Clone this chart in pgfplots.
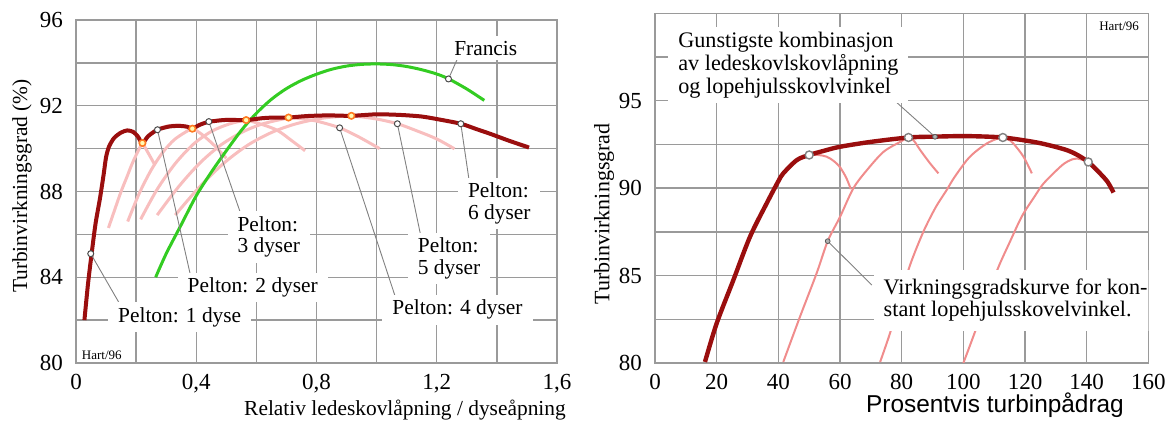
\documentclass[border=0pt]{standalone}
\usepackage{fontspec}
\setmainfont{Liberation Serif}
\newfontfamily\arialfont{Liberation Sans}
\usepackage{pgfplots}
\pgfplotsset{compat=1.18}
\definecolor{envRed}{HTML}{9A0E0E}
\definecolor{nozPink}{HTML}{F8BEBE}
\definecolor{runPink}{HTML}{F08C8C}
\definecolor{franGreen}{HTML}{33CC22}
\definecolor{gridGray}{HTML}{9A9A9A}
\definecolor{dotOrange}{HTML}{FF7A20}

\pgfplotsset{
  chart/.style={
    scale only axis,
    axis line style={gridGray, line width=0.8pt},
    grid=both,
    grid style={gridGray, line width=0.7pt},
    minor grid style={gridGray, line width=0.7pt},
    major tick length=0pt, minor tick length=0pt,
    tick label style={font=\fontsize{11.5}{12}\selectfont},
    xticklabel style={yshift=-2pt},
    yticklabel style={xshift=-3pt},
    /pgf/number format/assume math mode=true,
  },
  leader/.style={gray, line width=0.45pt, no markers, forget plot},
  wmark/.style={only marks, mark=*, mark size=1.5pt,
    mark options={fill=white, draw=black!70, line width=0.5pt}},
}
\tikzset{
  lbl/.style={fill=white, inner xsep=5pt, inner ysep=2.5pt,
    font=\fontsize{10.7}{10.9}\selectfont, align=left},
}

\begin{document}
\begin{tikzpicture}
\useasboundingbox (0,0) rectangle (585.5pt,211pt);

% ---- left: Pelton / Francis
\begin{axis}[chart, at={(38pt,29.5pt)}, anchor=south west,
  width=240.5pt, height=171.5pt,
  xmin=0, xmax=1.6, ymin=80, ymax=96,
  xtick={0,0.4,0.8,1.2,1.6}, xticklabels={0,{0,4},{0,8},{1,2},{1,6}},
  minor xtick={0.2,0.6,1.0,1.4},
  ytick={80,84,88,92,96}, minor ytick={82,86,90,94}]

% single nozzle-count curves
\addplot[nozPink, line width=1.5pt, smooth] coordinates {(0.205,90.58)(0.221,90.26)(0.24,89.8)(0.26,89.3)};
\addplot[nozPink, line width=1.5pt, smooth] coordinates {(0.108,86.3)(0.13,87.2)(0.15,88.0)(0.17,88.7)(0.19,89.4)(0.221,90.26)(0.25,90.7)(0.28,90.95)(0.31,91.07)(0.34,91.1)(0.365,91.05)(0.387,90.95)(0.42,90.65)(0.46,90.15)(0.5,89.55)};
\addplot[nozPink, line width=1.5pt, smooth] coordinates {(0.172,86.6)(0.21,87.9)(0.25,89.0)(0.29,89.85)(0.33,90.45)(0.387,90.95)(0.44,91.24)(0.5,91.36)(0.566,91.32)(0.62,91.12)(0.67,90.85)(0.715,90.4)(0.762,89.9)};
\addplot[nozPink, line width=1.5pt, smooth] coordinates {(0.215,86.7)(0.27,88.1)(0.33,89.3)(0.39,90.2)(0.45,90.8)(0.51,91.15)(0.566,91.33)(0.62,91.43)(0.66,91.45)(0.707,91.44)(0.76,91.38)(0.81,91.25)(0.877,90.97)(0.94,90.55)(1.01,90.0)};
\addplot[nozPink, line width=1.5pt, smooth] coordinates {(0.27,86.9)(0.34,88.2)(0.41,89.3)(0.48,90.15)(0.55,90.75)(0.62,91.15)(0.707,91.43)(0.77,91.52)(0.84,91.55)(0.916,91.53)(1.0,91.38)(1.069,91.16)(1.13,90.85)(1.2,90.45)(1.259,89.99)};
\addplot[nozPink, line width=1.5pt, smooth] coordinates {(0.33,86.9)(0.41,88.2)(0.49,89.3)(0.57,90.15)(0.65,90.75)(0.73,91.15)(0.82,91.42)(0.916,91.54)(1.0,91.6)(1.08,91.57)(1.148,91.5)};

% Francis
\addplot[franGreen, line width=1.5pt, smooth] coordinates {(0.265,84.0)(0.30,85.1)(0.35,86.45)(0.40,87.8)(0.45,88.9)(0.50,89.9)(0.55,90.85)(0.60,91.65)(0.65,92.3)(0.70,92.8)(0.75,93.18)(0.80,93.47)(0.85,93.7)(0.9,93.85)(0.95,93.93)(1.0,93.95)(1.05,93.92)(1.1,93.83)(1.15,93.68)(1.2,93.48)(1.24,93.25)(1.3,92.78)(1.358,92.25)};

% Pelton envelope
\addplot[envRed, line width=2pt, smooth, tension=0.45] coordinates {(0.028,82.0)(0.04,83.7)(0.052,85.1)(0.065,86.5)(0.08,87.7)(0.092,88.8)(0.1,89.6)(0.11,90.1)(0.127,90.5)(0.15,90.75)(0.171,90.85)(0.19,90.78)(0.205,90.58)(0.221,90.26)(0.24,90.58)(0.271,90.88)(0.31,91.03)(0.345,91.06)(0.37,91.02)(0.387,90.93)(0.41,91.1)(0.442,91.25)(0.5,91.34)(0.566,91.33)(0.62,91.42)(0.66,91.45)(0.707,91.45)(0.77,91.52)(0.84,91.55)(0.916,91.53)(1.0,91.6)(1.08,91.57)(1.148,91.5)(1.2,91.38)(1.28,91.16)(1.33,90.92)(1.38,90.68)(1.44,90.37)(1.507,90.05)};

% leaders
\addplot[leader] coordinates {(0.049,85.1)(0.149,82.67)};
\addplot[leader] coordinates {(0.271,90.88)(0.38,84.14)};
\addplot[leader] coordinates {(0.442,91.26)(0.547,87.0)};
\addplot[leader] coordinates {(0.877,90.97)(1.063,83.05)};
\addplot[leader] coordinates {(1.069,91.16)(1.147,85.92)};
\addplot[leader] coordinates {(1.28,91.16)(1.313,88.0)};
\addplot[leader] coordinates {(1.239,93.25)(1.269,94.2)};

\node[lbl] at (axis cs:0.345,82.14) {Pelton: 1 dyse};
\node[lbl] at (axis cs:0.588,83.52) {Pelton: 2 dyser};
\node[lbl] at (axis cs:0.641,85.88) {Pelton:\\3 dyser};
\node[lbl] at (axis cs:1.269,82.48) {Pelton: 4 dyser};
\node[lbl] at (axis cs:1.241,84.87) {Pelton:\\5 dyser};
\node[lbl] at (axis cs:1.408,87.44) {Pelton:\\6 dyser};
\node[lbl] at (axis cs:1.363,94.68) {Francis};
\node[font=\fontsize{6.5}{7}\selectfont] at (axis cs:0.086,80.37) {Hart/96};

\addplot[only marks, mark=*, mark size=1.6pt, mark options={draw=dotOrange, fill=yellow!30!white, line width=0.8pt}] coordinates {(0.221,90.26)(0.387,90.93)(0.566,91.33)(0.707,91.45)(0.916,91.53)};
\addplot[wmark] coordinates {(0.049,85.1)(0.271,90.88)(0.442,91.26)(0.877,90.97)(1.069,91.16)(1.28,91.16)(1.239,93.25)};
\end{axis}

% ---- right: combination curve
\begin{axis}[chart, at={(327.5pt,29.5pt)}, anchor=south west,
  width=246.7pt, height=174.8pt,
  xmin=0, xmax=160, ymin=80, ymax=100,
  xtick={0,20,...,160},
  ytick={80,85,90,95}, minor ytick={82.5,87.5,92.5,97.5}]

\addplot[runPink, line width=1pt, smooth] coordinates {(50,91.9)(53,91.9)(55.7,91.8)(58,91.55)(60,91.2)(62,90.6)(63.5,89.95)};
\addplot[runPink, line width=1pt, smooth] coordinates {(41.6,80.06)(47,82.64)(52.4,85.13)(56,86.97)(60,88.36)(64.3,89.99)(68.7,91.03)(74.1,92.08)(79.5,92.65)(82.2,92.9)(84,92.7)(86,92.18)(89.2,91.42)(91.9,90.85)};
\addplot[runPink, line width=1pt, smooth] coordinates {(73,80.06)(76.2,81.7)(79.5,83.7)(82.7,85.6)(87,87.5)(91,88.9)(94.6,89.9)(97,90.6)(101.1,91.6)(104,92.1)(107.6,92.56)(110.5,92.8)(112.8,92.9)(114.5,92.8)(116.2,92.56)(119.5,91.8)(122.2,90.85)};
\addplot[runPink, line width=1pt, smooth] coordinates {(100,80.0)(103.8,81.8)(107.5,83.7)(111.4,85.5)(115,86.9)(119,88.4)(123,89.5)(126,90.27)(131.4,91.22)(134,91.55)(136.8,91.7)(140.5,91.5)};

\addplot[envRed, line width=2.2pt, smooth] coordinates {(16.2,80.06)(20,82.27)(25.4,84.74)(30.8,87.22)(36.2,89.13)(40,90.4)(41.6,90.85)(46,91.61)(50,91.9)(55,92.15)(60,92.37)(70,92.65)(82.2,92.9)(90.8,92.95)(101,92.98)(112.8,92.9)(122.7,92.65)(128,92.45)(133.5,92.18)(137,91.9)(140.5,91.5)(144.3,90.85)(146.8,90.35)(148.7,89.75)};

\addplot[leader] coordinates {(90.8,92.94)(74.6,95.5)};
\addplot[leader] coordinates {(56.0,86.97)(70.3,84.46)};

\node[lbl, anchor=west, font=\fontsize{11.1}{11.3}\selectfont] at (axis cs:4.2,97.04) {Gunstigste kombinasjon\\av ledeskovlskovlåpning\\og lopehjulsskovlvinkel};
\node[lbl, anchor=west, inner ysep=4.5pt, font=\fontsize{11.1}{11.3}\selectfont] at (axis cs:70.8,83.6) {Virkningsgradskurve for kon-\\stant lopehjulsskovelvinkel.};
\node[font=\fontsize{6.5}{7}\selectfont] at (axis cs:150.5,99.29) {Hart/96};

\addplot[only marks, mark=*, mark size=2pt, mark options={fill=white, draw=gray, line width=0.7pt}] coordinates {(50,91.9)(82.2,92.9)(112.8,92.9)(140.5,91.5)};
\addplot[only marks, mark=*, mark size=1.2pt, mark options={fill=gray!60, draw=gray!70!black, line width=0.4pt}] coordinates {(90.8,92.94)(56.0,86.97)};
\end{axis}

% axis titles
\node[rotate=90, font=\fontsize{10.7}{11}\selectfont] at (11pt,118pt) {Turbinvirkningsgrad (\%)};
\node[font=\fontsize{10.7}{11}\selectfont] at (202.5pt,6pt) {Relativ ledeskovlåpning / dyseåpning};
\node[rotate=90, font=\fontsize{11}{11}\selectfont] at (302pt,104pt) {Turbinvirkningsgrad};
\node[font=\arialfont\fontsize{12.2}{13}\selectfont] at (497.5pt,8.5pt) {Prosentvis turbinpådrag};
\end{tikzpicture}
\end{document}
